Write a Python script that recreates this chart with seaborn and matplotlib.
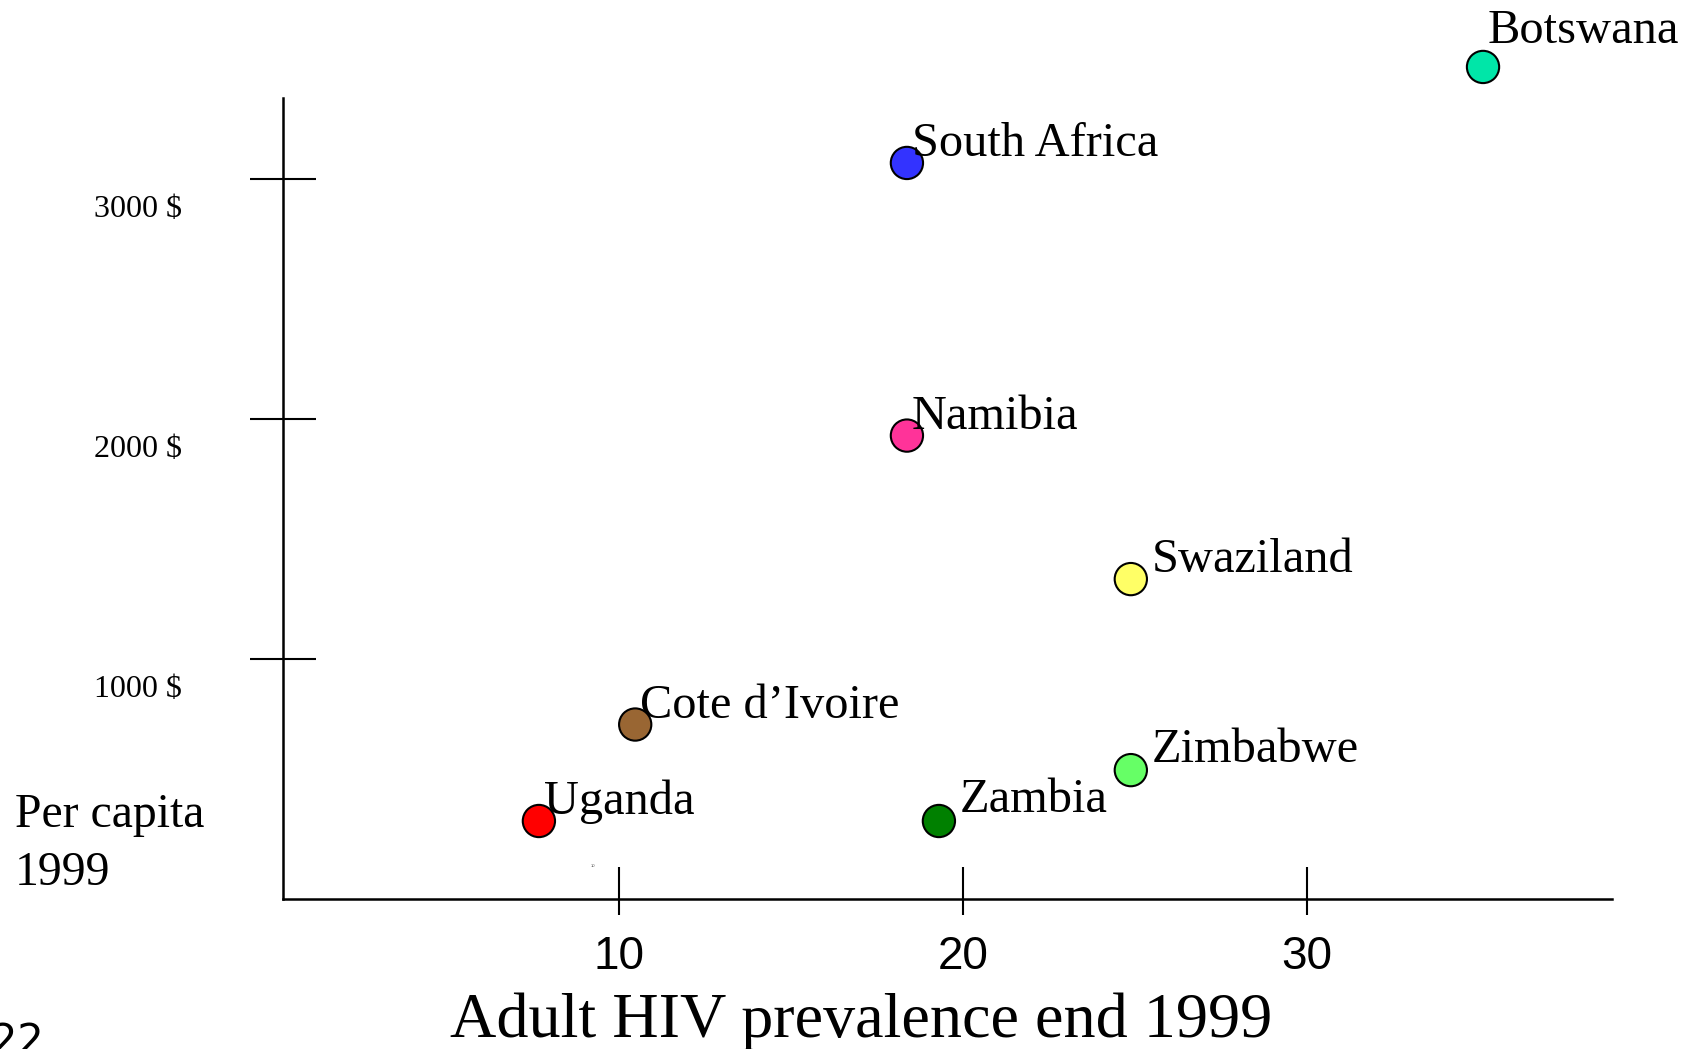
import matplotlib
matplotlib.use("Agg")
import matplotlib.pyplot as plt
import matplotlib.transforms as mtransforms
import pandas as pd
import seaborn as sns

# values
countries = ["Uganda", "Cote d\u2019Ivoire", "Zambia", "Zimbabwe",
             "Swaziland", "Namibia", "South Africa", "Botswana"]
hiv_prevalence = [7.67, 10.47, 19.30, 24.88, 24.88, 18.37, 18.37, 35.12]
gdp_per_capita = [325, 727, 325, 537, 1333, 1931, 3067, 3467]
colors = ["#FF0000", "#996633", "#008000", "#66FF66",
          "#FFFF66", "#FF3399", "#3333FF", "#00E6A8"]

x_ticks = [10, 20, 30]
x_tick_labels = ["10", "20", "30"]
y_ticks = [1000, 2000, 3000]
y_tick_labels = ["1000 $", "2000 $", "3000 $"]

# label offsets in pixels (dx, dy) from the marker centre
label_offsets = {"Zambia": (21, 9), "Zimbabwe": (21, 8), "Swaziland": (21, 7),
                 "Botswana": (5, 24)}

df = pd.DataFrame({"country": countries, "hiv": hiv_prevalence, "gdp": gdp_per_capita})

sns.set_style("white")
plt.rcParams["font.family"] = ["Liberation Serif", "DejaVu Serif"]
plt.rcParams["text.color"] = "black"
plt.rcParams["xtick.color"] = "black"
plt.rcParams["ytick.color"] = "black"

W, H = 1690, 1049
fig = plt.figure(figsize=(W / 100, H / 100), dpi=100)
ax = fig.add_axes([283 / W, 1 - 899 / H, (1612 - 283) / W, 899 / H])

sns.scatterplot(data=df, x="hiv", y="gdp", hue="country",
                palette=dict(zip(countries, colors)), s=540,
                edgecolor="black", linewidth=1.5, legend=False,
                clip_on=False, zorder=3, ax=ax)

ax.set_xlim(0.23, 38.87)
ax.set_ylim(0, 3746)
ax.set_xlabel("")
ax.set_ylabel("")

for side in ["top", "right"]:
    ax.spines[side].set_visible(False)
for side in ["left", "bottom"]:
    ax.spines[side].set_color("black")
    ax.spines[side].set_linewidth(1.8)
ax.spines["left"].set_bounds(0, 3337)

# x ticks: longer above the axis, shorter below
ax.set_xticks(x_ticks)
ax.set_xticklabels(x_tick_labels, fontfamily="Liberation Sans", fontsize=33,
                   color="black")
ax.set_xticks(x_ticks, minor=True)
ax.xaxis.remove_overlapping_locs = False
ax.tick_params(axis="x", which="major", direction="in", length=23, width=1.5,
               color="black", pad=26, bottom=True)
ax.tick_params(axis="x", which="minor", direction="out", length=11.5, width=1.5,
               color="black", bottom=True, labelbottom=False)

# y ticks cross the axis; labels sit a bit below each tick
ax.set_yticks(y_ticks)
ax.set_yticklabels([])
ax.tick_params(axis="y", which="major", direction="inout", length=47, width=1.5,
               color="black", left=True)
ylab_tr = mtransforms.offset_copy(ax.get_yaxis_transform(), fig=fig,
                                  x=-101 / 100, y=-30 / 100, units="inches")
for val, lab in zip(y_ticks, y_tick_labels):
    ax.text(0, val, lab, transform=ylab_tr, ha="right", va="center", fontsize=23)

# country labels
for name, xv, yv in zip(countries, hiv_prevalence, gdp_per_capita):
    dx, dy = label_offsets.get(name, (5, 7))
    tr = mtransforms.offset_copy(ax.transData, fig=fig, x=dx / 100, y=dy / 100,
                                 units="inches")
    ax.text(xv, yv, name, transform=tr, ha="left", va="baseline",
            fontsize=34.8, clip_on=False, zorder=4)

# axis titles placed like the slide
fig.text(861 / W, 1 - 1037 / H, "Adult HIV prevalence end 1999",
         ha="center", va="baseline", fontsize=46.2)
fig.text(15 / W, 1 - 827 / H, "Per capita", ha="left", va="baseline", fontsize=34.4)
fig.text(15 / W, 1 - 885 / H, "1999", ha="left", va="baseline", fontsize=34.4)

# small stray text and slide number
fig.text(593 / W, 1 - 866 / H, "10", ha="center", va="center", fontsize=3,
         color="#555555", fontfamily="Liberation Sans")
fig.text(-9 / W, 1 - 1054 / H, "22", ha="left", va="baseline", fontsize=30,
         fontfamily="DejaVu Sans")

fig.savefig("out.png", dpi=100, facecolor="white")
